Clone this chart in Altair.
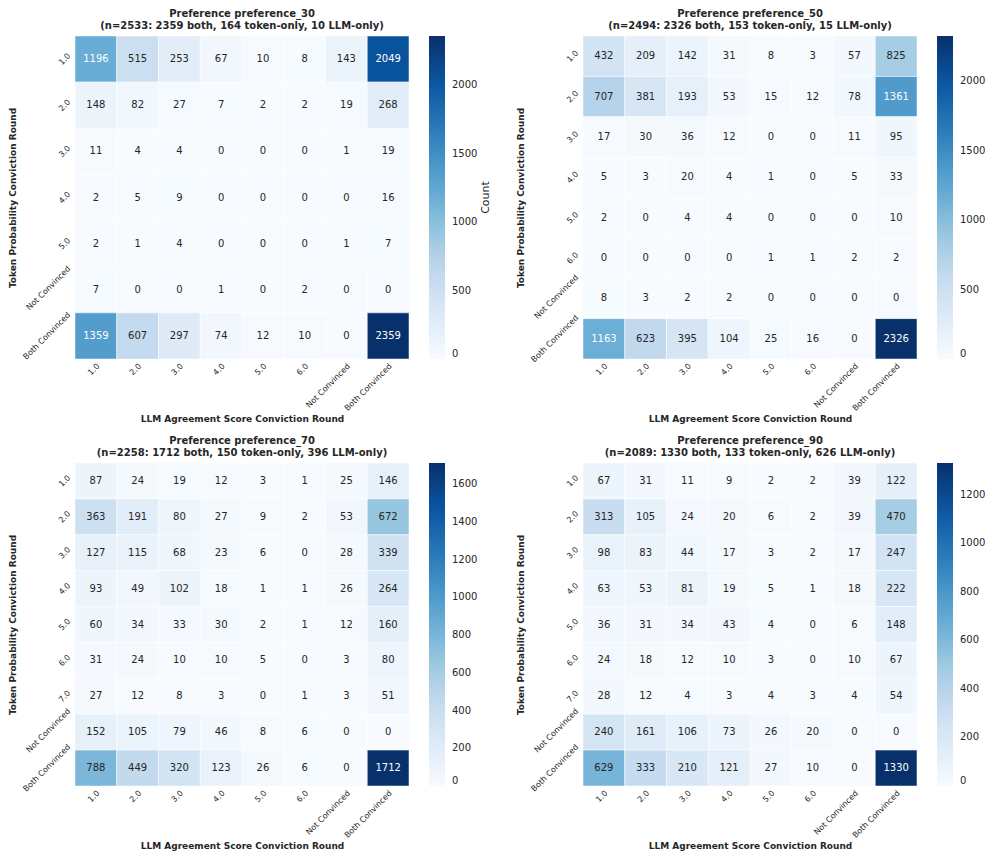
import altair as alt
import pandas as pd

LLM_COLS = ["1.0", "2.0", "3.0", "4.0", "5.0", "6.0", "Not Convinced", "Both Convinced"]

TOKEN_ROWS_30 = ["1.0", "2.0", "3.0", "4.0", "5.0", "Not Convinced", "Both Convinced"]
TOKEN_ROWS_50 = ["1.0", "2.0", "3.0", "4.0", "5.0", "6.0", "Not Convinced", "Both Convinced"]
TOKEN_ROWS_70 = ["1.0", "2.0", "3.0", "4.0", "5.0", "6.0", "7.0", "Not Convinced", "Both Convinced"]
TOKEN_ROWS_90 = ["1.0", "2.0", "3.0", "4.0", "5.0", "6.0", "7.0", "Not Convinced", "Both Convinced"]

COUNTS_30 = [
    [1196, 515, 253, 67, 10, 8, 143, 2049],
    [148, 82, 27, 7, 2, 2, 19, 268],
    [11, 4, 4, 0, 0, 0, 1, 19],
    [2, 5, 9, 0, 0, 0, 0, 16],
    [2, 1, 4, 0, 0, 0, 1, 7],
    [7, 0, 0, 1, 0, 2, 0, 0],
    [1359, 607, 297, 74, 12, 10, 0, 2359],
]
COUNTS_50 = [
    [432, 209, 142, 31, 8, 3, 57, 825],
    [707, 381, 193, 53, 15, 12, 78, 1361],
    [17, 30, 36, 12, 0, 0, 11, 95],
    [5, 3, 20, 4, 1, 0, 5, 33],
    [2, 0, 4, 4, 0, 0, 0, 10],
    [0, 0, 0, 0, 1, 1, 2, 2],
    [8, 3, 2, 2, 0, 0, 0, 0],
    [1163, 623, 395, 104, 25, 16, 0, 2326],
]
COUNTS_70 = [
    [87, 24, 19, 12, 3, 1, 25, 146],
    [363, 191, 80, 27, 9, 2, 53, 672],
    [127, 115, 68, 23, 6, 0, 28, 339],
    [93, 49, 102, 18, 1, 1, 26, 264],
    [60, 34, 33, 30, 2, 1, 12, 160],
    [31, 24, 10, 10, 5, 0, 3, 80],
    [27, 12, 8, 3, 0, 1, 3, 51],
    [152, 105, 79, 46, 8, 6, 0, 0],
    [788, 449, 320, 123, 26, 6, 0, 1712],
]
COUNTS_90 = [
    [67, 31, 11, 9, 2, 2, 39, 122],
    [313, 105, 24, 20, 6, 2, 39, 470],
    [98, 83, 44, 17, 3, 2, 17, 247],
    [63, 53, 81, 19, 5, 1, 18, 222],
    [36, 31, 34, 43, 4, 0, 6, 148],
    [24, 18, 12, 10, 3, 0, 10, 67],
    [28, 12, 4, 3, 4, 3, 4, 54],
    [240, 161, 106, 73, 26, 20, 0, 0],
    [629, 333, 210, 121, 27, 10, 0, 1330],
]

TITLES_30 = ["Preference preference_30", "(n=2533: 2359 both, 164 token-only, 10 LLM-only)"]
TITLES_50 = ["Preference preference_50", "(n=2494: 2326 both, 153 token-only, 15 LLM-only)"]
TITLES_70 = ["Preference preference_70", "(n=2258: 1712 both, 150 token-only, 396 LLM-only)"]
TITLES_90 = ["Preference preference_90", "(n=2089: 1330 both, 133 token-only, 626 LLM-only)"]

LEGEND_VALUES_30 = [0, 500, 1000, 1500, 2000]
LEGEND_VALUES_50 = [0, 500, 1000, 1500, 2000]
LEGEND_VALUES_70 = [0, 200, 400, 600, 800, 1000, 1200, 1400, 1600]
LEGEND_VALUES_90 = [0, 200, 400, 600, 800, 1000, 1200]

COLORBAR_LABEL = "Count"

BLUES = ["#f7fbff", "#deebf7", "#c6dbef", "#9ecae1", "#6baed6",
         "#4292c6", "#2171b5", "#08519c", "#08306b"]

TXT = "#262626"
FONT = "DejaVu Sans"
W, H = 334, 323


def panel(rows, counts, titles, legend_values, cbar_label):
    records = []
    for r, row_vals in zip(rows, counts):
        for c, v in zip(LLM_COLS, row_vals):
            records.append({"tok": r, "llm": c, "n": v})
    df = pd.DataFrame(records)
    vmax = max(max(rv) for rv in counts)
    domain = [vmax * i / 8 for i in range(9)]
    thr = 0.49 * vmax

    x_axis = alt.Axis(
        labelAngle=-45, labelAlign="right", labelBaseline="top",
        labelFontSize=8, labelColor=TXT, labelFont=FONT, labelPadding=3,
        labelOverlap=False, domain=False, ticks=False,
        title="LLM Agreement Score Conviction Round", titleFontSize=9,
        titleFontWeight="bold", titleColor=TXT, titleFont=FONT, titlePadding=2,
    )
    y_axis = alt.Axis(
        labelAngle=-45, labelAlign="right", labelBaseline="middle",
        labelOffset={"condition": {"test": "length(datum.label) > 5", "value": -22}, "value": -4},
        labelFontSize=8, labelColor=TXT, labelFont=FONT, labelPadding=6,
        labelOverlap=False, domain=False, ticks=False,
        title="Token Probability Conviction Round", titleFontSize=9,
        titleFontWeight="bold", titleColor=TXT, titleFont=FONT, titlePadding=4,
    )
    base = alt.Chart(df).encode(
        x=alt.X("llm:N", sort=LLM_COLS, axis=x_axis,
                scale=alt.Scale(paddingInner=0, paddingOuter=0)),
        y=alt.Y("tok:N", sort=rows, axis=y_axis,
                scale=alt.Scale(paddingInner=0, paddingOuter=0)),
    )
    rect = base.mark_rect(stroke="white", strokeWidth=0.5).encode(
        color=alt.Color(
            "n:Q",
            title=None,
            scale=alt.Scale(domain=domain, range=BLUES, nice=False, zero=False),
            legend=alt.Legend(
                values=legend_values, format="d", orient="right", direction="vertical",
                gradientLength=H, gradientThickness=16, offset=20, padding=0,
                labelFontSize=10, labelColor=TXT, labelFont=FONT, labelOffset=7,
                labelBaseline="middle", labelOverlap=False,
            ),
        )
    )
    text = base.mark_text(fontSize=10, font=FONT).encode(
        text=alt.Text("n:Q", format="d"),
        color=alt.condition(f"datum.n > {thr}", alt.value("white"), alt.value(TXT)),
    )
    layers = [rect, text]
    if cbar_label:
        lab = alt.Chart(pd.DataFrame({"t": [cbar_label]})).mark_text(
            angle=270, fontSize=11, font=FONT, color=TXT, align="center", baseline="middle"
        ).encode(text="t:N", x=alt.value(W + 77), y=alt.value(H / 2))
        layers.append(lab)
    return alt.layer(*layers).properties(
        width=W, height=H,
        title=alt.Title(
            text=titles, fontSize=10, fontWeight="bold", color=TXT, font=FONT,
            anchor="middle", frame="group", offset=5, lineHeight=12,
        ),
    )


p30 = panel(TOKEN_ROWS_30, COUNTS_30, TITLES_30, LEGEND_VALUES_30, COLORBAR_LABEL)
p50 = panel(TOKEN_ROWS_50, COUNTS_50, TITLES_50, LEGEND_VALUES_50, None)
p70 = panel(TOKEN_ROWS_70, COUNTS_70, TITLES_70, LEGEND_VALUES_70, None)
p90 = panel(TOKEN_ROWS_90, COUNTS_90, TITLES_90, LEGEND_VALUES_90, None)

chart = (
    alt.concat(p30, p50, p70, p90, columns=2, spacing={"row": 11, "column": 25})
    .resolve_scale(color="independent", x="independent", y="independent")
    .properties(padding=0, background="white")
    .configure_view(stroke=None)
)

chart.save("out.html", embed_options={"renderer": "svg", "actions": False})
